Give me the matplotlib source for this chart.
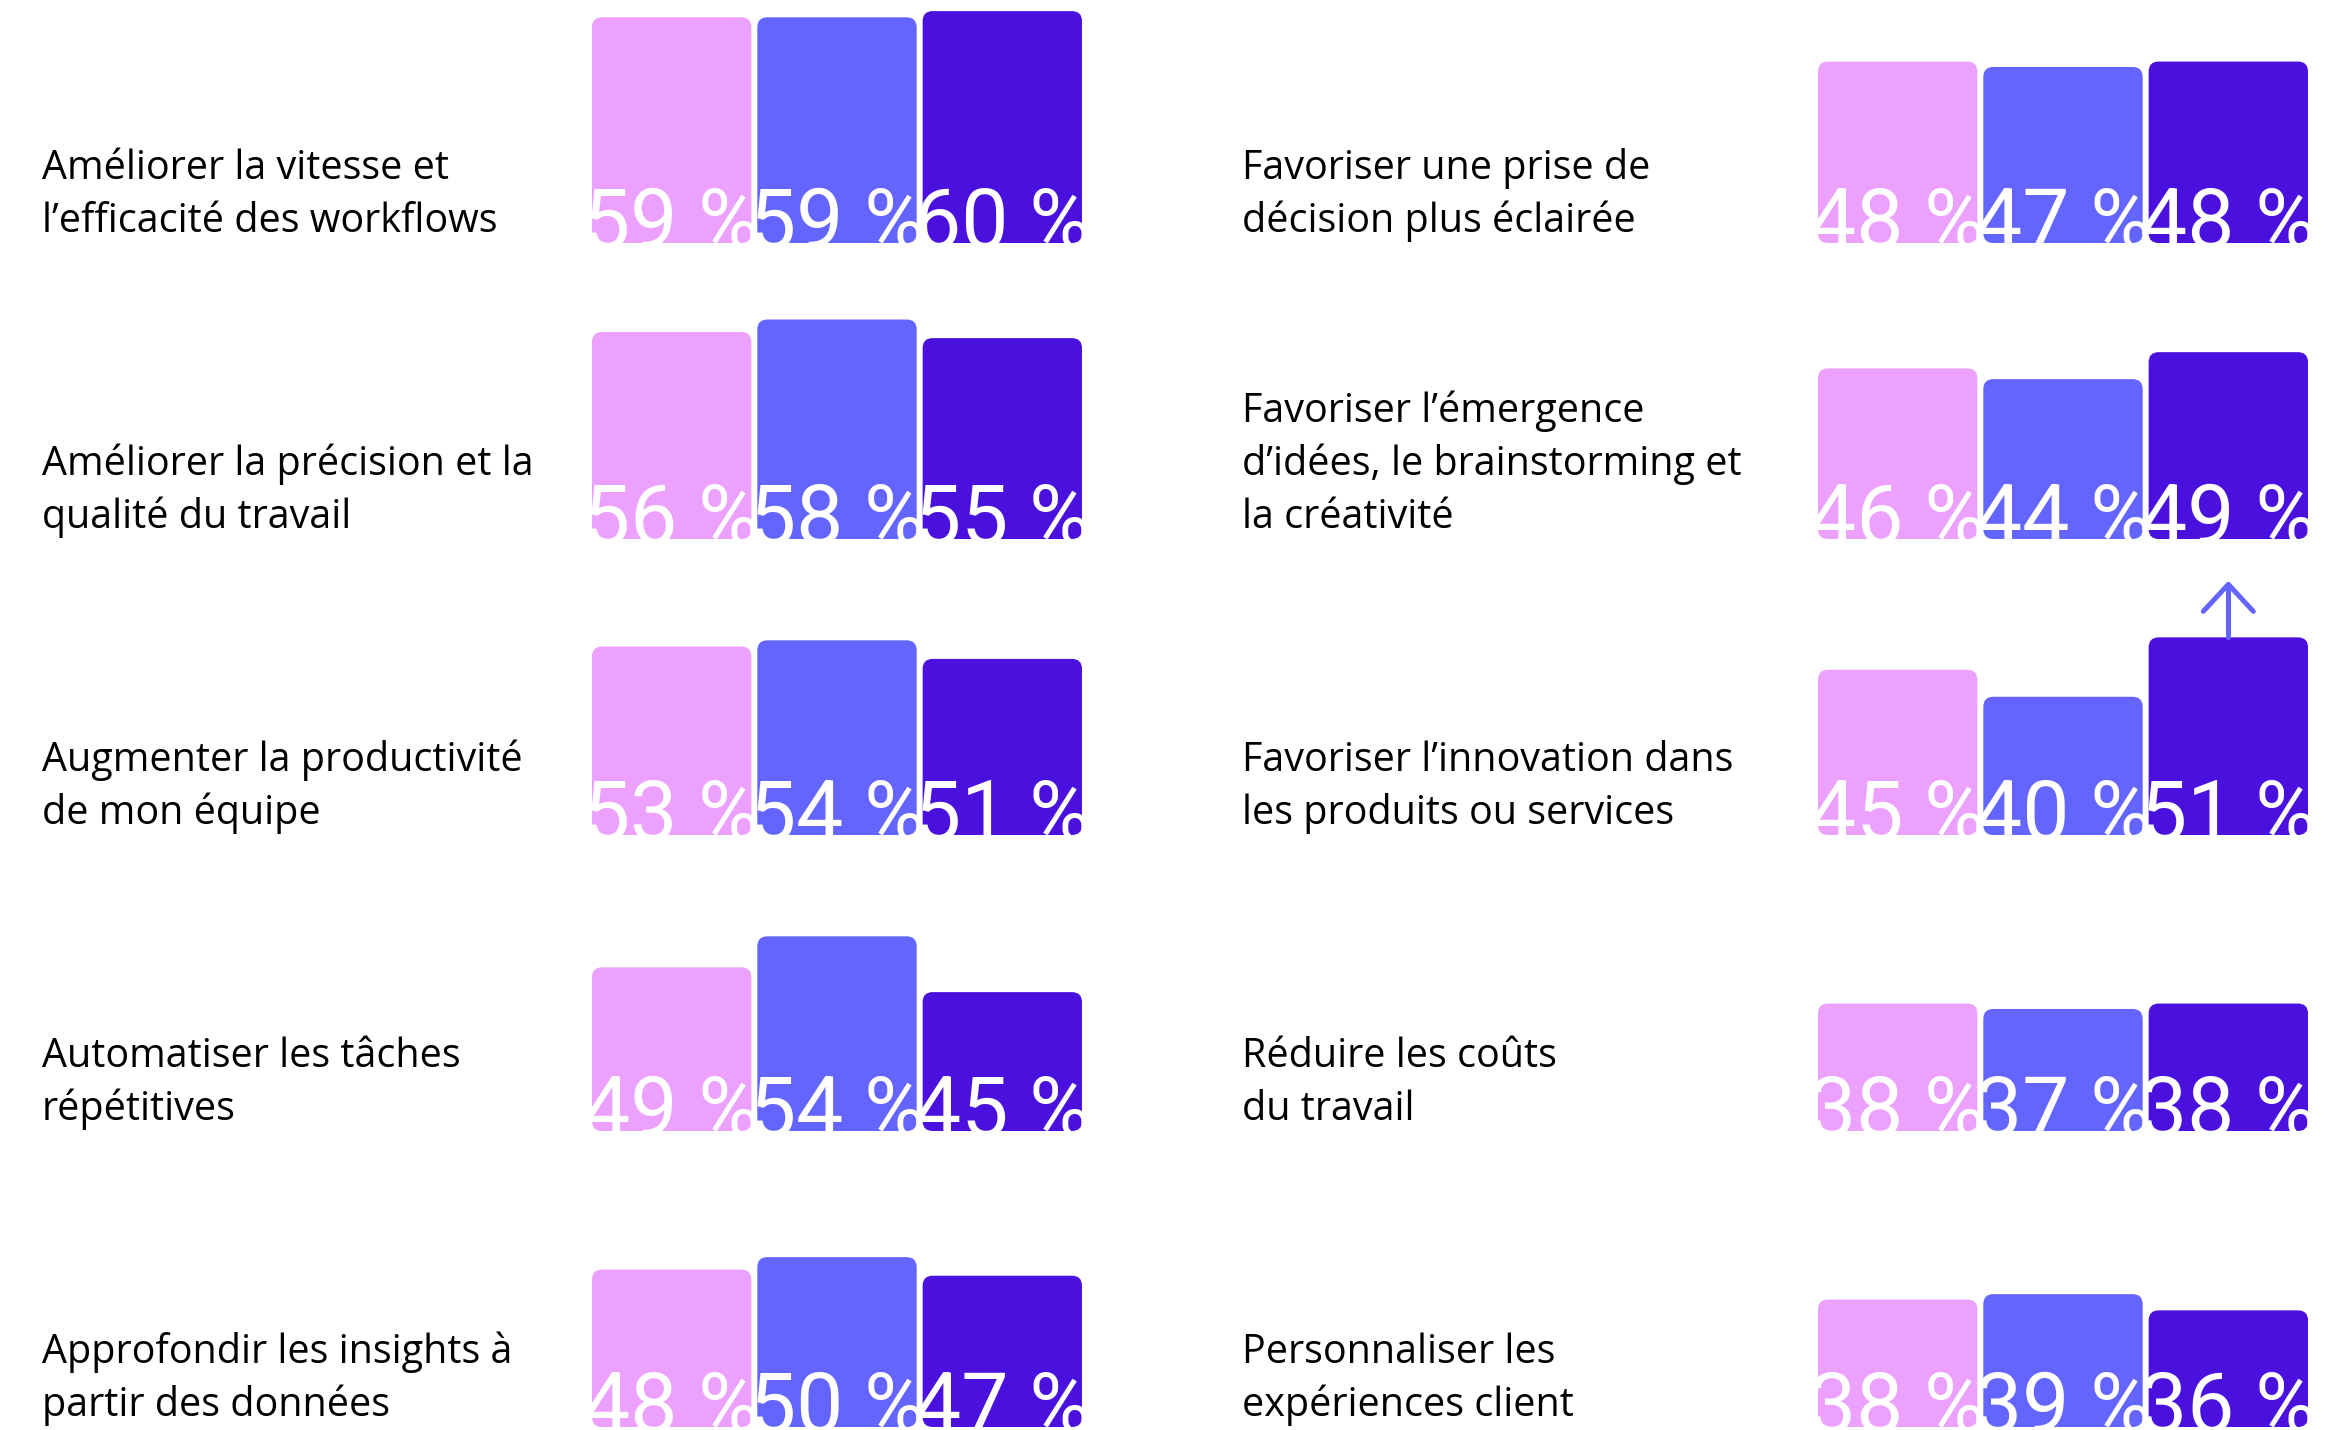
import matplotlib
matplotlib.use("Agg")
import matplotlib.pyplot as plt
from matplotlib.patches import FancyBboxPatch
from matplotlib.lines import Line2D
from matplotlib.transforms import IdentityTransform, offset_copy

# ---- data -------------------------------------------------------------
benefits = [
    "Améliorer la vitesse et\nl’efficacité des workflows",
    "Améliorer la précision et la\nqualité du travail",
    "Augmenter la productivité\nde mon équipe",
    "Automatiser les tâches\nrépétitives",
    "Approfondir les insights à\npartir des données",
    "Favoriser une prise de\ndécision plus éclairée",
    "Favoriser l’émergence\nd’idées, le brainstorming et\nla créativité",
    "Favoriser l’innovation dans\nles produits ou services",
    "Réduire les coûts\ndu travail",
    "Personnaliser les\nexpériences client",
]
series_pink = [59, 56, 53, 49, 48, 48, 46, 45, 38, 38]
series_blue = [59, 58, 54, 54, 50, 47, 44, 40, 37, 39]
series_indigo = [60, 55, 51, 45, 47, 48, 49, 51, 38, 36]
highlighted = 7  # benefit whose last bar carries the upward arrow

# ---- style ------------------------------------------------------------
W, H, DPI = 2346, 1430, 100
COLORS = ["#EBA1FD", "#6464FF", "#4A10DD"]
ROW_BOTTOMS = [243, 539, 835, 1131, 1427]      # px from top
COL_BAR_X = [592, 1818]                          # px, left of bar group
COL_LABEL_X = [42, 1242]
GROUP_W = 490
AX_H = 240
BAR_W = 0.964
# per-column value scale: (axis floor in %, px per %)
COL_SCALE = [(22.6, 6.2), (14.4, 5.4)]
LABEL_FONT = ["Open Sans", "DejaVu Sans"]
NUM_FONT = ["Roboto", "DejaVu Sans"]
LABEL_PX = 39.5
NUM_PX = 84
LINE_PITCH = 53
px2pt = 72.0 / DPI

fig = plt.figure(figsize=(W / DPI, H / DPI), dpi=DPI)
fig.patch.set_facecolor("white")

xlim = (-BAR_W / 2, 2 + BAR_W / 2)
ppu_x = GROUP_W / (xlim[1] - xlim[0])
radius_px = 10

axes = []
for k, label in enumerate(benefits):
    col, row = divmod(k, 5)
    floor, ppu_y = COL_SCALE[col]
    bottom_px = ROW_BOTTOMS[row]
    ax = fig.add_axes([COL_BAR_X[col] / W, 1 - bottom_px / H, GROUP_W / W, AX_H / H])
    ax.set_xlim(*xlim)
    ax.set_ylim(floor, floor + AX_H / ppu_y)
    ax.axis("off")
    axes.append(ax)

    vals = [series_pink[k], series_blue[k], series_indigo[k]]
    bars = ax.bar(range(3), [v - floor for v in vals], bottom=floor,
                  width=BAR_W, color=COLORS)
    for rect, c in zip(bars, COLORS):
        x, y, w, h = rect.get_x(), rect.get_y(), rect.get_width(), rect.get_height()
        rect.set_visible(False)
        ax.add_patch(FancyBboxPatch(
            (x, y), w, h,
            boxstyle=f"round,pad=0,rounding_size={radius_px / ppu_x}",
            mutation_aspect=ppu_x / ppu_y,
            facecolor=c, edgecolor="none"))

    tr = offset_copy(ax.transData, fig=fig, x=0, y=-5, units="dots")
    for i, v in enumerate(vals):
        t = ax.text(i, floor, f"{v} %", ha="center", va="baseline",
                    color="white", fontsize=NUM_PX * px2pt,
                    family=NUM_FONT, transform=tr, clip_on=True)
        t.set_clip_box(ax.bbox)

    lines = label.split("\n")
    n = len(lines)
    for j, line in enumerate(lines):
        base_px = bottom_px - 11 - (n - 1 - j) * LINE_PITCH
        fig.text(COL_LABEL_X[col] / W, 1 - base_px / H, line,
                 ha="left", va="baseline", color="black",
                 fontsize=LABEL_PX * px2pt, family=LABEL_FONT)

# upward arrow above the highlighted indigo bar
fig.canvas.draw()
ax = axes[highlighted]
bx, by = ax.transData.transform((2, series_indigo[highlighted]))
tip = by + 53
arm_dx, arm_dy = 25, 27
arrow_kw = dict(color=COLORS[1], lw=5 * px2pt, solid_capstyle="round",
                solid_joinstyle="round", transform=IdentityTransform())
fig.add_artist(Line2D([bx, bx], [by, tip], **arrow_kw))
fig.add_artist(Line2D([bx - arm_dx, bx, bx + arm_dx],
                      [tip - arm_dy, tip, tip - arm_dy], **arrow_kw))

fig.savefig("out.png", dpi=DPI, facecolor="white")
